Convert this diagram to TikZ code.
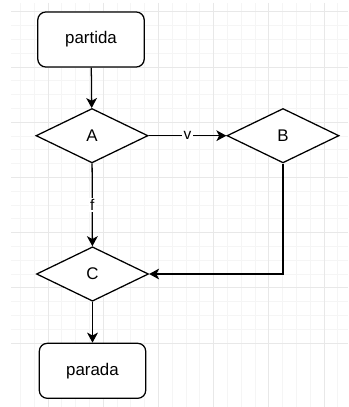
\documentclass[tikz,border=0pt]{standalone}
\usepackage{fontspec}
\setmainfont{Liberation Sans}
\usetikzlibrary{shapes.geometric,arrows.meta}

\tikzset{
    minorline/.style={line width=0.5pt, draw=black!4},
    majorline/.style={line width=0.6pt, draw=black!9},
    terminal/.style={draw, line width=0.9pt, rounded corners=0.2cm, fill=white,
        minimum width=2.66cm, minimum height=1.375cm, font=\fontsize{12}{14}\selectfont},
    decision/.style={draw, line width=0.9pt, diamond, inner sep=0pt, fill=white,
        minimum width=2.8cm, minimum height=1.36cm, font=\fontsize{12}{14}\selectfont},
    arr/.style={line width=0.9pt, -{Stealth[length=0.25cm, width=0.27cm, inset=0.07cm]}},
    lbl/.style={fill=white, inner sep=1pt, font=\fontsize{11}{13}\selectfont}
}

\begin{document}
\begin{tikzpicture}[x=0.025cm, y=-0.025cm]
    \useasboundingbox (0,0) rectangle (348,407);

    % background grid
    \begin{scope}
        \clip (11,3) rectangle (348,407);
        \foreach \i in {0,...,24} {
            \draw[minorline] ({6.6+13.8*\i},3) -- ++(0,404);
            \draw[minorline] (11,{11.8+13.8*\i}) -- ++(337,0);
        }
        \foreach \i in {0,...,6} {
            \draw[majorline] ({48+55.2*\i},3) -- ++(0,404);
            \draw[majorline] (11,{11.8+55.2*\i}) -- ++(337,0);
        }
    \end{scope}

    % boxes and decisions
    \node[terminal] (partida) at (91,39.5) {partida};
    \node[decision] (A) at (92,135.7) {A};
    \node[decision] (B) at (283,135.7) {B};
    \node[decision] (C) at (92.5,274) {C};
    \node[terminal] (parada) at (92.5,370.8) {parada};

    % flow
    \draw[arr] (partida) -- (A);
    \draw[arr] (A) -- node[lbl] {v} (B);
    \draw[arr] (A) -- node[lbl] {f} (C);
    \draw[arr] (B.south) |- (C.east);
    \draw[arr] (C) -- (parada);
\end{tikzpicture}
\end{document}
